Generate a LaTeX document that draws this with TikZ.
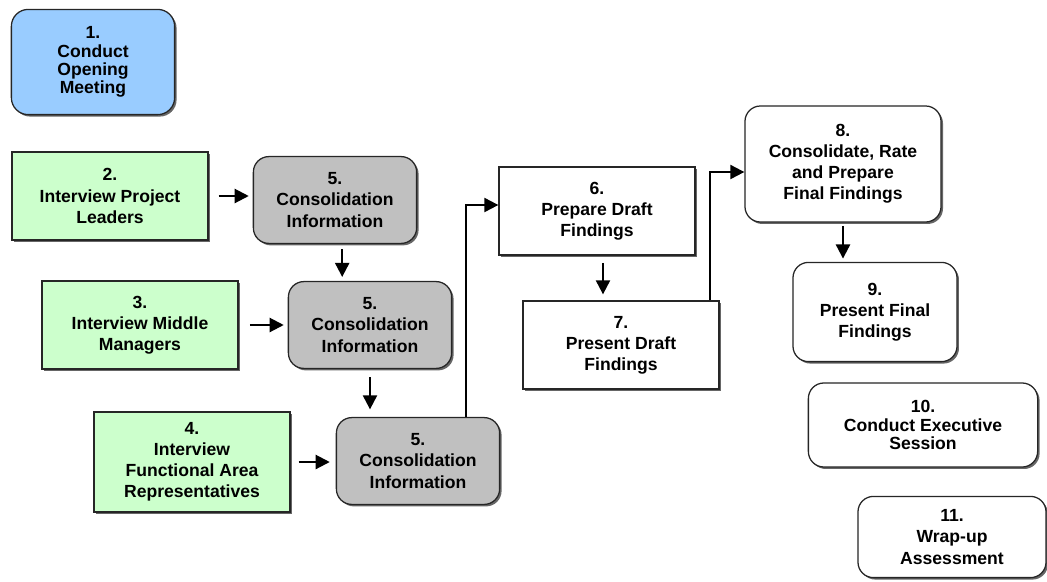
\documentclass[tikz,border=0pt]{standalone}
\usepackage{fontspec}
\setmainfont{Liberation Sans}
\usepackage{xcolor}
\usepackage{tikz}
\usetikzlibrary{arrows.meta, shadows}

\definecolor{openblue}{RGB}{153,204,255}
\definecolor{intgreen}{RGB}{204,255,204}
\definecolor{consgray}{RGB}{192,192,192}

\begin{document}
\begin{tikzpicture}[
    x=0.025cm, y=-0.025cm,
    every node/.style={font=\fontsize{12.5}{15}\selectfont\bfseries, align=center, inner sep=2pt},
    box/.style={rectangle, draw=black!85, line width=0.9pt, drop shadow={shadow xshift=1.4pt, shadow yshift=-1.4pt, fill=black, opacity=0.6}},
    opening/.style={box, rounded corners=12pt, fill=openblue, minimum width=4.08cm, minimum height=2.63cm},
    interview/.style={box, fill=intgreen, minimum width=4.9cm, minimum height=2.2cm},
    consol/.style={box, rounded corners=11pt, fill=consgray, minimum width=4.08cm, minimum height=2.17cm},
    draft/.style={box, fill=white, minimum width=4.9cm, minimum height=2.2cm},
    final/.style={box, rounded corners=11pt, fill=white, minimum width=4.1cm, minimum height=2.1cm},
    arrow/.style={-{Triangle[length=10pt,width=10pt]}, line width=1.5pt}
]
\useasboundingbox (0,0) rectangle (1047,581);

% Opening
\node[opening, font=\fontsize{12.5}{13}\selectfont\bfseries] (open) at (93,62) {1.\\Conduct\\Opening\\Meeting};

% Interviews and consolidation
\node[interview] (leaders) at (110,196) {2.\\Interview Project\\Leaders};
\node[consol] (consA) at (335,200) {5.\\Consolidation\\Information};
\node[interview] (middle) at (140,325) {3.\\Interview Middle\\Managers};
\node[consol] (consB) at (370,325) {5.\\Consolidation\\Information};
\node[interview, minimum height=2.5cm] (functional) at (192,462) {4.\\Interview\\Functional Area\\Representatives};
\node[consol] (consC) at (418,461) {5.\\Consolidation\\Information};

% Draft findings
\node[draft] (prepdraft) at (597,211) {6.\\Prepare Draft\\Findings};
\node[draft] (presdraft) at (621,345) {7.\\Present Draft\\Findings};

% Final findings and wrap-up
\node[final, minimum width=4.9cm, minimum height=2.9cm] (prepfinal) at (843,164) {8.\\Consolidate, Rate\\and Prepare\\Final Findings};
\node[final, minimum height=2.48cm] (presfinal) at (875,312) {9.\\Present Final\\Findings};
\node[final, minimum width=5.73cm, font=\fontsize{12.5}{13}\selectfont\bfseries] (exec) at (923,425) {10.\\Conduct Executive\\Session};
\node[final, minimum width=4.7cm, minimum height=2.03cm] (wrapup) at (952,537) {11.\\Wrap-up\\Assessment};

% Interview arrows
\draw[arrow] ([xshift=0.25cm]leaders.east) -- ([xshift=-0.1cm]leaders.east -| consA.west);
\draw[arrow] ([xshift=0.28cm]middle.east) -- ([xshift=-0.1cm]middle.east -| consB.west);
\draw[arrow] ([xshift=0.2cm]functional.east) -- ([xshift=-0.15cm]functional.east -| consC.west);

% Consolidation chain
\draw[arrow] ([xshift=0.18cm,yshift=-0.125cm]consA.south) -- ([xshift=0.18cm,yshift=0.1cm]consB.north -| consA.south);
\draw[arrow] ([yshift=-0.2cm]consB.south) -- ([yshift=0.19cm]consC.north -| consB.south);
\draw[arrow] ([xshift=1.2cm]consC.north) |- ([yshift=0.15cm]prepdraft.west);

% Findings chain
\draw[arrow] ([xshift=0.15cm,yshift=-0.18cm]prepdraft.south) -- ([xshift=0.15cm,yshift=0.15cm]presdraft.north -| prepdraft.south);
\draw[arrow] ([xshift=2.23cm]presdraft.north) |- ([yshift=-0.2cm]prepfinal.west);
\draw[arrow] ([yshift=-0.08cm]prepfinal.south) -- ([yshift=0.08cm]presfinal.north -| prepfinal.south);

\end{tikzpicture}
\end{document}
